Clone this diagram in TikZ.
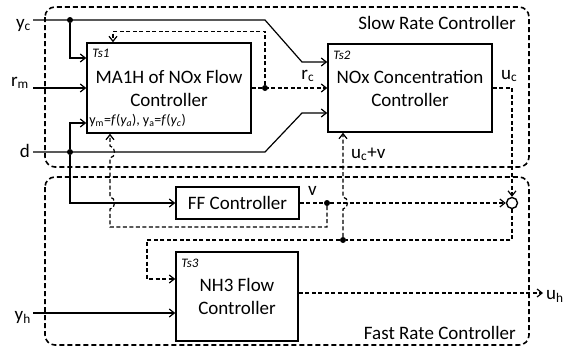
\documentclass[tikz,border=0pt]{standalone}
\usepackage{fontspec}
\setmainfont{Carlito}
\usetikzlibrary{arrows.meta,positioning}

\begin{document}
\begin{tikzpicture}[x=1pt,y=-1pt,font=\fontsize{19}{23}\selectfont,
  wire/.style={line width=1.2pt},
  wired/.style={wire,dash pattern=on 4pt off 2.5pt},
  sig/.style={wire,-{Straight Barb[length=5pt,width=8pt]}},
  sigd/.style={wired,-{Straight Barb[length=5pt,width=8pt]}},
  blk/.style={draw,line width=1.6pt,align=center,inner sep=0pt},
  dot/.style={circle,fill,inner sep=0pt,minimum size=6pt},
  region/.style={draw,line width=1.6pt,dash pattern=on 5pt off 3pt,rounded corners=10pt},
  tag/.style={font=\fontsize{13}{15}\selectfont\itshape,inner sep=0pt},
  lbl/.style={inner sep=0pt}]
  \useasboundingbox (0,0) rectangle (573,351);

  % Rate regions
  \draw[region] (45,7) rectangle (529,167);
  \draw[region] (45,177) rectangle (529,345);
  \node[lbl,anchor=base east] (slow) at (516,29) {Slow Rate Controller};
  \node[lbl,anchor=base east] (fast) at (516,339) {Fast Rate Controller};

  % Blocks
  \node[blk,minimum width=164pt,minimum height=90pt] (ma1h) at (169,88) {MA1H of NOx Flow\\Controller};
  \node[blk,minimum width=164pt,minimum height=88pt] (nox) at (410,88) {NOx Concentration\\Controller};
  \node[blk,minimum width=123pt,minimum height=32pt] (ff) at (237.5,203) {FF Controller};
  \node[blk,minimum width=122pt,minimum height=89pt] (nh3) at (237,296.5) {NH3 Flow\\Controller};
  \node[draw,circle,line width=1.4pt,minimum size=11pt,inner sep=0pt] (sum) at (512,203) {};

  \node[tag,anchor=north west] (ts1) at ([xshift=6pt,yshift=-7pt]ma1h.north west) {Ts1};
  \node[tag,anchor=north west] (ts2) at ([xshift=6pt,yshift=-8pt]nox.north west) {Ts2};
  \node[tag,anchor=north west] (ts3) at ([xshift=6pt,yshift=-8pt]nh3.north west) {Ts3};
  \node[lbl,anchor=base west,font=\fontsize{14}{16}\selectfont] (map) at ([xshift=3pt,yshift=9pt]ma1h.south west)
    {y\textsubscript{m}=\textit{f}(\textit{y\textsubscript{a}}), y\textsubscript{a}=\textit{f}(\textit{y\textsubscript{c}})};

  % Inputs
  \coordinate (ycin) at (33,20);
  \coordinate (rmin) at (33,88);
  \coordinate (din) at (33,152);
  \coordinate (yhin) at (33,313);
  \coordinate (uhout) at (543,293);
  \node[lbl,anchor=base east] (yc) at (31,28) {y\textsubscript{c}};
  \node[lbl,anchor=base east] (rm) at (29,86) {r\textsubscript{m}};
  \node[lbl,anchor=base east] (d) at (30,157) {d};
  \node[lbl,anchor=base east] (yh) at (31,320) {y\textsubscript{h}};
  \node[lbl,anchor=base west] (uh) at (546,299) {u\textsubscript{h}};

  % Junctions
  \node[dot] (dyc) at (70,20) {};
  \node[dot] (dd) at (70,152) {};
  \node[dot] (drc) at (265,88) {};
  \node[dot] (dv) at (327,203) {};
  \node[dot] (duv) at (343,240) {};

  % Slow rate signals
  \draw[sig] (ycin) -- (265,20) -- (302,62) -- ([yshift=26pt]nox.west);
  \draw[sig] (dyc) |- ([yshift=30pt]ma1h.west);
  \draw[sig] (rmin) -- (ma1h.west);
  \draw[sig] (din) -- (265,152) -- (302,113) -- ([yshift=-25pt]nox.west);
  \draw[sig] (dd) |- ([yshift=-35pt]ma1h.west);
  \draw[sig] (dd) |- (ff.west);
  \draw[sigd] (ma1h.east) -- (nox.west) node[lbl,anchor=base west,pos=0.65,yshift=9pt] (rc) {r\textsubscript{c}};
  \draw[sigd] (drc) |- ([xshift=-56pt,yshift=11pt]ma1h.north) -- ([xshift=-56pt]ma1h.north);
  \draw[sigd] (nox.east) -| (sum.north);
  \node[lbl,anchor=base west] (uc) at (501,79) {u\textsubscript{c}};

  % Fast rate signals
  \draw[wired] (ff.east) -- (dv);
  \node[lbl,anchor=base west] (v) at (308,195) {v};
  \draw[sigd] (dv) -- (sum.west);
  \draw[sigd] (dv) |- (110,227) -- (110,209) .. controls (116,209) and (116,197) .. (110,197)
    -- (110,158) .. controls (116,158) and (116,146) .. (110,146) -- ([xshift=-59pt]ma1h.south);
  \draw[wired] (sum.south) |- (duv);
  \draw[sigd] (duv) -- (343,209) .. controls (349,209) and (349,197) .. (343,197) -- ([xshift=-67pt]nox.south);
  \node[lbl,anchor=base west] (ucv) at (351,158) {u\textsubscript{c}+v};
  \draw[sigd] (duv) -| (147,279) -- ([yshift=17.5pt]nh3.west);
  \draw[sig] (yhin) -- (yhin -| nh3.west);
  \draw[sigd] ([yshift=3.5pt]nh3.east) -- (uhout);
\end{tikzpicture}
\end{document}
